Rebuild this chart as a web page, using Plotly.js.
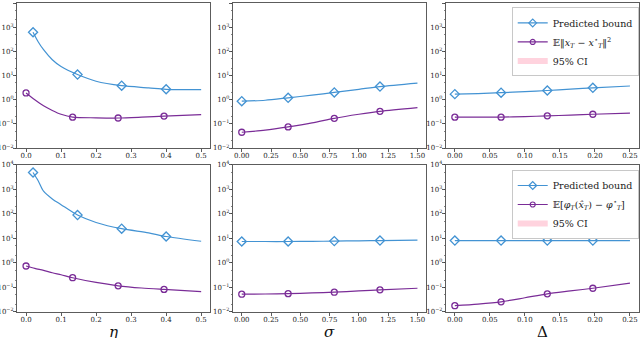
<!DOCTYPE html>
<html>
<head>
<meta charset="utf-8">
<script src="https://cdn.plot.ly/plotly-3.0.1.min.js"></script>
<style>
  body { margin: 0; background: #fff; }
  #chart { width: 640px; height: 338px; }
</style>
</head>
<body>
<div id="chart"></div>
<script>
// eta sweep (left column)
var etaBoundX = [0.02, 0.035, 0.05, 0.075, 0.1, 0.147, 0.2, 0.273, 0.35, 0.4, 0.5];
var etaErrX = [0, 0.025, 0.05, 0.075, 0.1, 0.133, 0.2, 0.263, 0.33, 0.394, 0.5];
var etaMarks = [0, 5, 7, 9];
var etaBoundTop = [620, 245, 117, 45, 23.6, 11, 5.8, 3.8, 3.1, 2.7, 2.6];
var etaErrTop = [1.9, 1.0, 0.56, 0.36, 0.25, 0.19, 0.178, 0.175, 0.19, 0.21, 0.24];
var etaBoundBot = [4900, 2200, 850, 410, 240, 90, 45, 25, 17, 12, 7.7];
var etaErrBot = [0.75, 0.6, 0.5, 0.4, 0.33, 0.25, 0.16, 0.117, 0.095, 0.083, 0.068];

// sigma sweep (middle column)
var sigmaX = [0, 0.2, 0.396, 0.6, 0.79, 1.0, 1.18, 1.5];
var sigmaMarks = [0, 2, 4, 6];
var sigmaBoundTop = [0.87, 0.95, 1.2, 1.55, 2.0, 2.7, 3.5, 4.9];
var sigmaErrTop = [0.045, 0.055, 0.075, 0.11, 0.17, 0.25, 0.33, 0.47];
var sigmaBoundBot = [7.5, 7.5, 7.5, 7.6, 7.8, 8.0, 8.2, 8.6];
var sigmaErrBot = [0.053, 0.054, 0.056, 0.06, 0.064, 0.072, 0.08, 0.093];

// Delta sweep (right column)
var deltaX = [0, 0.033, 0.066, 0.1, 0.132, 0.165, 0.197, 0.25];
var deltaMarks = [0, 2, 4, 6];
var deltaBoundTop = [1.7, 1.8, 1.95, 2.15, 2.4, 2.75, 3.1, 3.7];
var deltaErrTop = [0.19, 0.19, 0.19, 0.2, 0.215, 0.23, 0.25, 0.28];
var deltaBoundBot = [8.2, 8.2, 8.2, 8.2, 8.2, 8.2, 8.2, 8.2];
var deltaErrBot = [0.018, 0.021, 0.026, 0.038, 0.055, 0.072, 0.093, 0.15];

var yTickVals = [0.01, 0.1, 1, 10, 100, 1000, 10000];
var yTickText = ['10<sup>−2</sup>', '10<sup>−1</sup>', '10<sup>0</sup>', '10<sup>1</sup>',
  '10<sup>2</sup>', '10<sup>3</sup>', '10<sup>4</sup>'];

var legendTop = ['Predicted bound',
  '𝔼‖<i>x</i><sub><i>T</i></sub> − <i>x</i><sup>⋆</sup><sub><i>T</i></sub>‖<sup>2</sup>',
  '95% CI'];
var legendBot = ['Predicted bound',
  '𝔼[<i>φ</i><sub><i>T</i></sub>(<i>x̂</i><sub><i>T</i></sub>) − <i>φ</i><sup>⋆</sup><sub><i>T</i></sub>]',
  '95% CI'];
var xTitles = ['η', 'σ', 'Δ'];

var BLUE = '#4393d3';
var PURPLE = '#7a2c97';
var PINK = '#ffd3de';
var FONT = 'DejaVu Serif';

var traces = [];

function pick(arr, idx) { return idx.map(function (i) { return arr[i]; }); }

function addSeries(x, y, marks, color, symbol, size, xa, ya) {
  traces.push({
    x: x, y: y, xaxis: xa, yaxis: ya, type: 'scatter', mode: 'lines',
    line: {color: color, width: 1.2, shape: 'spline', smoothing: 0.8},
    showlegend: false, hoverinfo: 'skip'
  });
  traces.push({
    x: pick(x, marks), y: pick(y, marks), xaxis: xa, yaxis: ya,
    type: 'scatter', mode: 'markers',
    marker: {symbol: symbol, size: size, color: color, line: {color: color, width: 1.3}},
    showlegend: false
  });
}

function addLegend(names, xa, ya, legendId) {
  traces.push({x: [null], y: [null], xaxis: xa, yaxis: ya, mode: 'lines+markers', name: names[0],
    legend: legendId, line: {color: BLUE, width: 1.2},
    marker: {symbol: 'diamond-open', size: 6, color: BLUE, line: {width: 1.2}}});
  traces.push({x: [null], y: [null], xaxis: xa, yaxis: ya, mode: 'lines+markers', name: names[1],
    legend: legendId, line: {color: PURPLE, width: 1.2},
    marker: {symbol: 'circle-open', size: 5, color: PURPLE, line: {width: 1.2}}});
  traces.push({x: [null], y: [null], xaxis: xa, yaxis: ya, mode: 'none', fill: 'toself',
    fillcolor: PINK, name: names[2], legend: legendId});
}

addSeries(etaBoundX, etaBoundTop, etaMarks, BLUE, 'diamond-open', 7, 'x', 'y');
addSeries(etaErrX, etaErrTop, etaMarks, PURPLE, 'circle-open', 6, 'x', 'y');
addSeries(sigmaX, sigmaBoundTop, sigmaMarks, BLUE, 'diamond-open', 7, 'x2', 'y2');
addSeries(sigmaX, sigmaErrTop, sigmaMarks, PURPLE, 'circle-open', 6, 'x2', 'y2');
addSeries(deltaX, deltaBoundTop, deltaMarks, BLUE, 'diamond-open', 7, 'x3', 'y3');
addSeries(deltaX, deltaErrTop, deltaMarks, PURPLE, 'circle-open', 6, 'x3', 'y3');
addSeries(etaBoundX, etaBoundBot, etaMarks, BLUE, 'diamond-open', 7, 'x4', 'y4');
addSeries(etaErrX, etaErrBot, etaMarks, PURPLE, 'circle-open', 6, 'x4', 'y4');
addSeries(sigmaX, sigmaBoundBot, sigmaMarks, BLUE, 'diamond-open', 7, 'x5', 'y5');
addSeries(sigmaX, sigmaErrBot, sigmaMarks, PURPLE, 'circle-open', 6, 'x5', 'y5');
addSeries(deltaX, deltaBoundBot, deltaMarks, BLUE, 'diamond-open', 7, 'x6', 'y6');
addSeries(deltaX, deltaErrBot, deltaMarks, PURPLE, 'circle-open', 6, 'x6', 'y6');
addLegend(legendTop, 'x3', 'y3', 'legend');
addLegend(legendBot, 'x6', 'y6', 'legend2');

var colDomains = [[0.027, 0.328], [0.364, 0.666], [0.697, 0.998]];
var rowDomains = [[0.562, 0.991], [0.077, 0.512]];
var xRanges = [[-0.025, 0.525], [-0.075, 1.575], [-0.0125, 0.2625]];
var xTicks = [[0, 0.1, 0.2, 0.3, 0.4, 0.5], [0, 0.25, 0.5, 0.75, 1.0, 1.25, 1.5],
  [0, 0.05, 0.1, 0.15, 0.2, 0.25]];
var xFormats = ['.1f', '.2f', '.2f'];

var legendStyle = {
  xanchor: 'right', yanchor: 'top', x: 0.998,
  bgcolor: '#fff', bordercolor: '#c8c8c8', borderwidth: 1, itemwidth: 30,
  font: {family: FONT, size: 9.5, color: '#222'}
};

var layout = {
  width: 640, height: 338,
  margin: {l: 0, r: 0, t: 0, b: 0},
  paper_bgcolor: '#fff', plot_bgcolor: '#fff',
  font: {family: FONT, color: '#222', size: 7},
  legend: Object.assign({y: 0.978}, legendStyle),
  legend2: Object.assign({y: 0.497}, legendStyle),
  annotations: []
};

for (var r = 0; r < 2; r++) {
  for (var c = 0; c < 3; c++) {
    var n = r * 3 + c + 1;
    var xk = n === 1 ? 'xaxis' : 'xaxis' + n;
    var yk = n === 1 ? 'yaxis' : 'yaxis' + n;
    layout[xk] = {
      domain: colDomains[c], anchor: n === 1 ? 'y' : 'y' + n,
      range: xRanges[c], tickvals: xTicks[c], tickformat: xFormats[c],
      showline: true, mirror: true, linecolor: '#333', linewidth: 0.8,
      ticks: 'outside', ticklen: 3.5, tickwidth: 0.8, tickcolor: '#333',
      ticklabelstandoff: -3,
      showgrid: false, zeroline: false, tickfont: {family: FONT, size: 7}
    };
    layout[yk] = {
      domain: rowDomains[r], anchor: n === 1 ? 'x' : 'x' + n,
      type: 'log', range: [-2, 4], tickvals: yTickVals, ticktext: yTickText,
      showline: true, mirror: true, linecolor: '#333', linewidth: 0.8,
      ticks: 'outside', ticklen: 3.5, tickwidth: 0.8, tickcolor: '#333',
      ticklabelstandoff: -2,
      minor: {ticks: 'outside', ticklen: 1.5, tickwidth: 0.6, tickcolor: '#333'},
      showgrid: false, zeroline: false, tickfont: {family: FONT, size: 7}
    };
  }
}

for (var k = 0; k < 3; k++) {
  layout.annotations.push({
    text: k === 2 ? xTitles[k] : '<i>' + xTitles[k] + '</i>',
    xref: 'paper', yref: 'paper',
    x: (colDomains[k][0] + colDomains[k][1]) / 2, y: 0.018,
    xanchor: 'center', yanchor: 'middle', showarrow: false,
    font: {family: FONT, size: 15, color: '#111'}
  });
}

Plotly.newPlot('chart', traces, layout, {staticPlot: true});
</script>
</body>
</html>
